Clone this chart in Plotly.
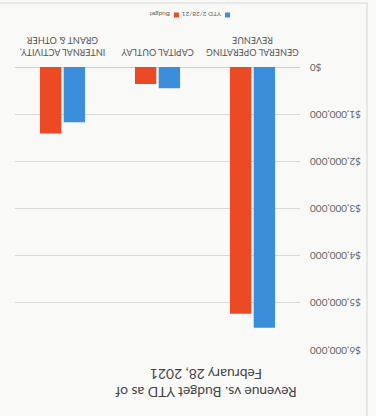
import plotly.graph_objects as go

categories = ["GENERAL OPERATING<br>REVENUE", "CAPITAL OUTLAY", "INTERNAL ACTIVITY,<br>GRANT & OTHER"]
ytd_values = [5530000, 450000, 1170000]
budget_values = [5230000, 360000, 1410000]
series_names = ["YTD 2/28/21", "Budget"]
series_colors = ["#3A8EDA", "#EC4A25"]
title_text = "Revenue vs. Budget YTD as of<br>February 28, 2021"

FONT = "Lato, 'Open Sans', sans-serif"
W, H = 376, 416
L, R, T, B = 76, 15, 66, 67
PW, PH = W - L - R, H - T - B


def px(xp):
    return (xp - L) / PW


def py(yp):
    return (H - B - yp) / PH


fig = go.Figure()
for vals, name, col in zip([ytd_values, budget_values], series_names, series_colors):
    fig.add_trace(go.Bar(x=categories, y=vals, name=name,
                         marker=dict(color=col, line=dict(width=0))))

fig.update_layout(
    width=W, height=H,
    margin=dict(l=L, r=R, t=T, b=B),
    paper_bgcolor="#f9f9f7", plot_bgcolor="#f9f9f7",
    font=dict(family=FONT, color="#555555"),
    barmode="group", bargap=0.5, bargroupgap=0.1,
    title=dict(text=title_text, xref="container", x=170/W, xanchor="center",
               yref="container", y=1-29/H, yanchor="top",
               font=dict(size=13.8, color="#444444", family=FONT)),
    showlegend=False,
)
fig.update_xaxes(showgrid=False, showline=False, ticks="", ticklabelstandoff=8,
                 tickfont=dict(size=9, color="#555555"), tickangle=0)
fig.update_yaxes(range=[0, 6000000], dtick=1000000, tickformat="$,.0f",
                 showgrid=True, gridcolor="#d8d8d8", gridwidth=1,
                 zeroline=True, zerolinecolor="#d0d0d0", zerolinewidth=1,
                 showline=False, ticks="", ticklabelstandoff=9,
                 tickfont=dict(size=10, color="#666666"))

# compact legend (marker square followed directly by its label)
legend_x = [146, 197]
legend_y = 401
for name, col, lx in zip(series_names, series_colors, legend_x):
    fig.add_shape(type="rect", xref="paper", yref="paper",
                  x0=px(lx), x1=px(lx + 5), y0=py(legend_y + 2.5), y1=py(legend_y - 2.5),
                  line=dict(width=0), fillcolor=col)
    fig.add_annotation(text=name, xref="paper", yref="paper", x=px(lx + 7), y=py(legend_y),
                       xanchor="left", yanchor="middle", showarrow=False,
                       font=dict(size=6.5, color="#666666", family=FONT))

fig.add_shape(type="rect", xref="paper", yref="paper",
              x0=px(9), x1=px(390), y0=py(413), y1=py(-20),
              line=dict(color="#d6d6d6", width=1), fillcolor="rgba(0,0,0,0)", layer="below")

post = ("var d=document.getElementById('{plot_id}');"
        "d.style.transform='rotate(180deg)';d.style.transformOrigin='50% 50%';"
        "document.body.style.margin='0';document.body.style.overflow='hidden';")
fig.write_html("out.html", post_script=post, config={"displayModeBar": False})
